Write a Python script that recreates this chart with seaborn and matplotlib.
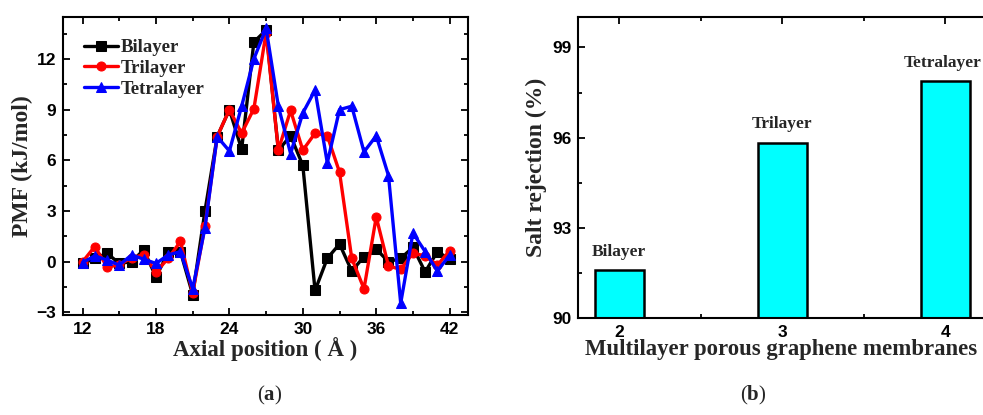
import numpy as np
import pandas as pd
import seaborn as sns
import matplotlib
matplotlib.use("Agg")
import matplotlib.pyplot as plt
from matplotlib.ticker import MultipleLocator

# ---------------- data ----------------
axial_position = list(range(12, 43))
bilayer = [-0.1, 0.2, 0.5, -0.1, 0.0, 0.7, -0.9, 0.55, 0.6, -1.95, 3.0, 7.4,
           9.0, 6.65, 13.0, 13.7, 6.6, 7.45, 5.7, -1.7, 0.2, 1.05, -0.55, 0.3,
           0.75, 0.0, 0.2, 0.85, -0.6, 0.6, 0.15]
trilayer = [0.0, 0.9, -0.3, -0.2, 0.25, 0.4, -0.6, 0.2, 1.2, -1.85, 2.1, 7.4,
            9.0, 7.6, 9.05, 13.55, 6.6, 8.95, 6.6, 7.6, 7.45, 5.3, 0.2, -1.6,
            2.65, -0.25, -0.45, 0.5, 0.35, -0.2, 0.65]
tetralayer = [-0.05, 0.35, 0.1, -0.2, 0.4, 0.15, -0.1, 0.4, 0.6, -1.6, 2.0,
              7.4, 6.55, 9.2, 12.0, 13.8, 9.2, 6.4, 8.8, 10.15, 5.85, 9.0, 9.2,
              6.5, 7.45, 5.1, -2.45, 1.7, 0.6, -0.55, 0.4]
series_names = ["Bilayer", "Trilayer", "Tetralayer"]
series_colors = ["black", "red", "blue"]
series_markers = ["s", "o", "^"]

layers = [2, 3, 4]
salt_rejection = [91.6, 95.83, 97.88]
bar_labels = ["Bilayer", "Trilayer", "Tetralayer"]

# ---------------- style ----------------
sns.set_theme(style="ticks")
plt.rcParams["font.family"] = ["Liberation Sans", "DejaVu Sans"]
plt.rcParams["mathtext.fontset"] = "custom"
plt.rcParams["mathtext.rm"] = "Liberation Serif"
plt.rcParams["mathtext.bf"] = "Liberation Serif:bold"
serif = ["Liberation Serif", "DejaVu Serif"]

fig = plt.figure(figsize=(9.83, 4.15), dpi=100)
W, H = 983, 415
ax1 = fig.add_axes([63 / W, 1 - 315 / H, (468 - 63) / W, (315 - 17.3) / H])
ax2 = fig.add_axes([578.3 / W, 1 - 318.3 / H, (986 - 578.3) / W, (318.3 - 17.3) / H])

df = pd.DataFrame({"x": axial_position * 3,
                   "y": bilayer + trilayer + tetralayer,
                   "s": sum([[n] * len(axial_position) for n in series_names], [])})
for name, col, mk in zip(series_names, series_colors, series_markers):
    sub = df[df["s"] == name]
    sns.lineplot(data=sub, x="x", y="y", ax=ax1, color=col, marker=mk,
                 markersize=6.5, markeredgecolor=col, linewidth=2.4, label=name)

ax1.set_xlim(10.4, 43.5)
ax1.set_ylim(-3.15, 14.46)
ax1.xaxis.set_major_locator(MultipleLocator(6))
ax1.xaxis.set_minor_locator(MultipleLocator(3))
ax1.yaxis.set_major_locator(MultipleLocator(3))
ax1.yaxis.set_minor_locator(MultipleLocator(1.5))
ax1.set_xticks(range(12, 43, 6))
ax1.set_xlabel("Axial position ( Å )", family=serif, fontsize=16.5, fontweight="bold", labelpad=0)
ax1.set_ylabel("PMF (kJ/mol)", family=serif, fontsize=17, fontweight="bold", labelpad=2)

leg = ax1.legend(loc="upper left", bbox_to_anchor=(0.025, 0.965), frameon=False,
                 prop={"family": serif, "weight": "bold", "size": 13.5},
                 handlelength=1.8, handletextpad=0.15, labelspacing=0.2,
                 borderaxespad=0.2)

sns.barplot(x=[str(v) for v in layers], y=salt_rejection, ax=ax2, color="#00ffff",
            saturation=1, width=0.3, edgecolor="black", linewidth=1.8)
ax2.set_xlim(-0.25, 2.25)
ax2.set_ylim(90, 100)
ax2.yaxis.set_major_locator(MultipleLocator(3))
ax2.yaxis.set_minor_locator(MultipleLocator(1.5))
ax2.set_xticks([0, 1, 2])
ax2.set_xticklabels([str(v) for v in layers])
ax2.set_xticks([0.5, 1.5], minor=True)
for i, (v, lab) in enumerate(zip(salt_rejection, bar_labels)):
    ax2.text(i - (0.015 if i == 2 else 0), v + 0.35, lab, ha="center", va="bottom",
             family=serif, fontsize=12.5, fontweight="bold")
ax2.set_xlabel("Multilayer porous graphene membranes", family=serif, fontsize=16.4,
               fontweight="bold", labelpad=0)
ax2.xaxis.set_label_coords((781 - 578.3) / (986 - 578.3), -0.07)
ax2.set_ylabel("Salt rejection (%)", family=serif, fontsize=17, fontweight="bold", labelpad=4)

for ax in (ax1, ax2):
    for sp in ax.spines.values():
        sp.set_visible(True)
        sp.set_linewidth(1.5)
        sp.set_color("black")
    ax.tick_params(which="both", direction="in", top=True, right=True, width=1.3,
                   colors="black")
    ax.tick_params(which="major", length=5, labelsize=12.5, pad=5)
    ax.tick_params(which="minor", length=3)
    for t in ax.get_xticklabels() + ax.get_yticklabels():
        t.set_fontweight("bold")
ax2.tick_params(which="both", right=False)

fig.text(270 / W, 1 - 395 / H, r"($\mathbf{a}$)", ha="center", va="center",
         family=serif, fontsize=15)
fig.text(753 / W, 1 - 395 / H, r"($\mathbf{b}$)", ha="center", va="center",
         family=serif, fontsize=15)

fig.savefig("out.png", dpi=100)
